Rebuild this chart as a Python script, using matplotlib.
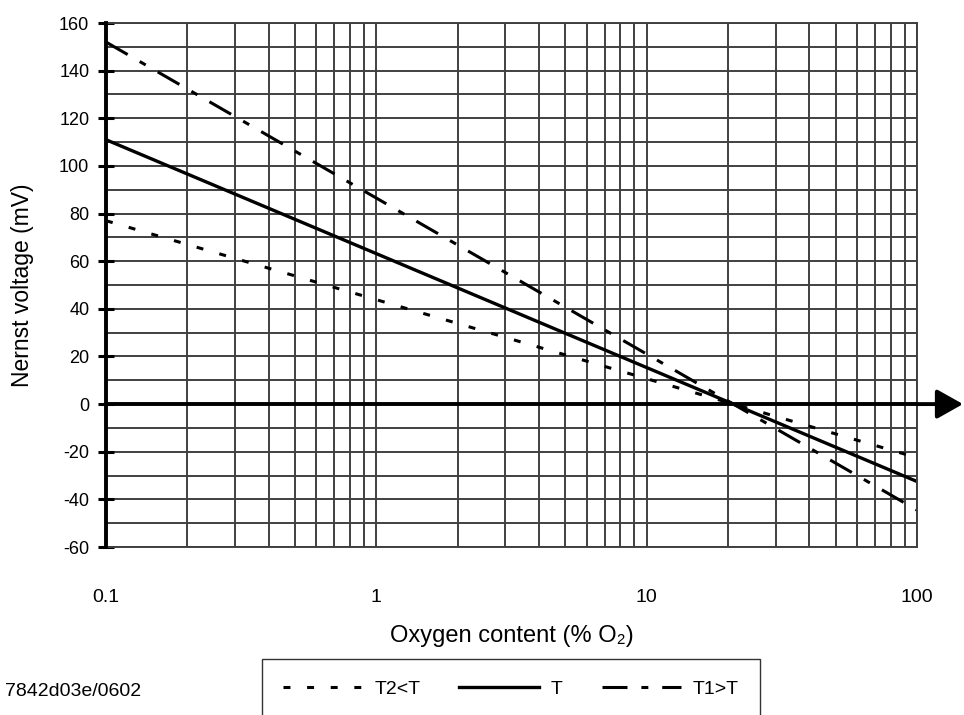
import matplotlib
matplotlib.use("Agg")
from matplotlib import pyplot as plt
from matplotlib.ticker import FixedLocator, LogLocator, NullFormatter
import numpy as np

plt.rcParams['font.family'] = ['Liberation Sans', 'DejaVu Sans']
plt.rcParams['lines.scale_dashes'] = False
plt.rcParams['axes.unicode_minus'] = False

# oxygen content (% O2) at the two ends of each straight line
oxygen = [0.1, 100]
# Nernst voltage (mV)
v_t2 = [77, -22.5]    # T2<T
v_t = [111, -32.5]    # T
v_t1 = [152, -44.5]   # T1>T

x_ticks = [0.1, 1, 10, 100]
x_labels = ["0.1", "1", "10", "100"]
y_ticks = list(range(-60, 161, 20))

grid_col = "#404040"

fig = plt.figure(figsize=(9.64, 7.15), dpi=100)
ax = fig.add_axes([106/964, 1-547/715, 811/964, 524/715])

ax.set_xscale("log")
ax.set_xlim(0.1, 100)
ax.set_ylim(-60, 160)

# grid: every 10 mV, every log sub-step
ax.xaxis.set_major_locator(FixedLocator(x_ticks))
ax.xaxis.set_minor_locator(LogLocator(base=10, subs=np.arange(2, 10)))
ax.xaxis.set_minor_formatter(NullFormatter())
ax.set_xticks(x_ticks)
ax.set_xticklabels(x_labels)
ax.yaxis.set_major_locator(FixedLocator(y_ticks))
ax.yaxis.set_minor_locator(FixedLocator(list(range(-50, 160, 20))))
ax.grid(True, which="both", color=grid_col, lw=1.4)
ax.set_axisbelow(True)

ax.plot(oxygen, v_t2, color="k", lw=2.2, dashes=(5, 12), label="T2<T")
ax.plot(oxygen, v_t, color="k", lw=2.4, label="T")
ax.plot(oxygen, v_t1, color="k", lw=2.2, dashes=(18, 10, 5, 10), label="T1>T")

# zero axis with arrow
ax.axhline(0, color="k", lw=2.8, zorder=3)
ax.annotate("", xy=(963/964, 0), xycoords=("figure fraction", "data"),
            xytext=(1.0, 0), textcoords=("axes fraction", "data"),
            arrowprops=dict(arrowstyle="-|>,head_length=0.8,head_width=0.45",
                            mutation_scale=20, lw=2.8, color="k",
                            shrinkA=0, shrinkB=0),
            annotation_clip=False)

for s in ["top", "right", "bottom"]:
    ax.spines[s].set_color(grid_col)
    ax.spines[s].set_linewidth(1.4)
ax.spines["left"].set_linewidth(2.8)
ax.spines["left"].set_zorder(4)

ax.tick_params(axis="y", which="major", direction="inout", length=12, width=2.2,
               labelsize=13, pad=6)
ax.tick_params(axis="y", which="minor", length=0)
ax.tick_params(axis="x", which="both", length=0, labelsize=14, pad=30)

ax.set_ylabel("Nernst voltage (mV)", fontsize=16.5, labelpad=18)
ax.set_xlabel("Oxygen content (% O\u2082)", fontsize=17, labelpad=14)

fig.legend(loc="upper center", bbox_to_anchor=(511/964, 1-659/715), ncol=3,
           fontsize=14, frameon=True, fancybox=False, edgecolor="k",
           handlelength=4.1, columnspacing=2.0, borderpad=1.1,
           handletextpad=0.6, borderaxespad=0)

fig.text(5/964, 1-692/715, "7842d03e/0602", fontsize=14, va="center", ha="left")

fig.savefig("out.png", dpi=100)
